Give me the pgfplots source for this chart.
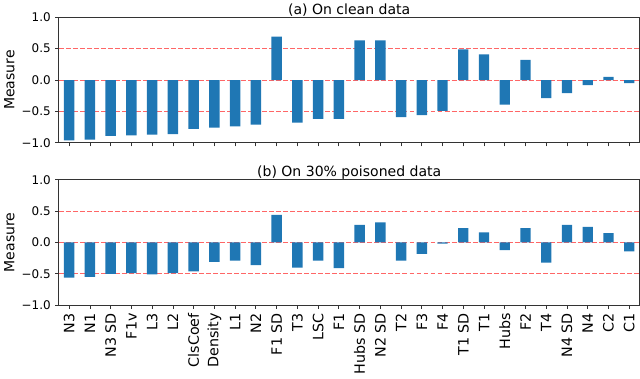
\documentclass[border=0pt]{standalone}
\usepackage{pgfplots}
\pgfplotsset{compat=1.18}
\usepackage{fontspec}
\setmainfont{DejaVu Sans}
\definecolor{barblue}{HTML}{1F77B4}
\definecolor{refred}{HTML}{FF6666}

\pgfplotsset{
  panel/.style={
    scale only axis,
    width=472pt, height=102pt,
    xmin=-0.5, xmax=27.5,
    ymin=-1, ymax=1,
    ytick={-1,-0.5,0,0.5,1},
    yticklabels={−1.0,−0.5,0.0,0.5,1.0},
    xtick={0,...,27},
    tick align=outside,
    tick pos=left,
    major tick length=3pt,
    axis line style={black!80, line width=0.6pt},
    tick style={black!80, line width=0.6pt},
    ylabel={Measure},
    ylabel style={font=\fontsize{11.4}{13}\selectfont, yshift=-1pt},
    y tick label style={font=\fontsize{9.7}{11}\selectfont},
    x tick label style={font=\fontsize{11.6}{13}\selectfont},
    title style={font=\fontsize{11.4}{13}\selectfont, yshift=-9pt},
    /pgf/number format/assume math mode=true,
  },
  refline/.style={refred, line width=0.8pt, dash pattern=on 4pt off 1.7pt, forget plot},
  bars/.style={ybar, bar width=0.5, bar shift=0pt, fill=barblue, draw=none},
}

\begin{document}
\begin{tikzpicture}
\begin{axis}[panel, at={(0,0)}, anchor=north west,
  title={(a) On clean data}, xticklabels={}]
  \addplot[refline] coordinates {(-0.5,0.5) (27.5,0.5)};
  \addplot[refline] coordinates {(-0.5,0) (27.5,0)};
  \addplot[refline] coordinates {(-0.5,-0.5) (27.5,-0.5)};
  \addplot[bars] coordinates {
    (0,-0.96) (1,-0.95) (2,-0.89) (3,-0.88) (4,-0.87) (5,-0.86)
    (6,-0.78) (7,-0.76) (8,-0.74) (9,-0.71) (10,0.69) (11,-0.68)
    (12,-0.62) (13,-0.62) (14,0.63) (15,0.63) (16,-0.59) (17,-0.56)
    (18,-0.49) (19,0.49) (20,0.41) (21,-0.39) (22,0.32) (23,-0.29)
    (24,-0.21) (25,-0.08) (26,0.05) (27,-0.05)
  };
\end{axis}
\begin{axis}[panel, at={(0,-132pt)}, anchor=north west,
  title={(b) On 30\% poisoned data},
  xticklabels={N3, N1, N3 SD, F1v, L3, L2, ClsCoef, Density, L1, N2, F1 SD, T3, LSC, F1,
    Hubs SD, N2 SD, T2, F3, F4, T1 SD, T1, Hubs, F2, T4, N4 SD, N4, C2, C1},
  x tick label style={rotate=90, anchor=east}]
  \addplot[refline] coordinates {(-0.5,0.5) (27.5,0.5)};
  \addplot[refline] coordinates {(-0.5,0) (27.5,0)};
  \addplot[refline] coordinates {(-0.5,-0.5) (27.5,-0.5)};
  \addplot[bars] coordinates {
    (0,-0.56) (1,-0.55) (2,-0.50) (3,-0.49) (4,-0.51) (5,-0.49)
    (6,-0.46) (7,-0.31) (8,-0.29) (9,-0.36) (10,0.44) (11,-0.40)
    (12,-0.29) (13,-0.41) (14,0.28) (15,0.32) (16,-0.29) (17,-0.18)
    (18,-0.02) (19,0.23) (20,0.16) (21,-0.12) (22,0.23) (23,-0.32)
    (24,0.28) (25,0.25) (26,0.15) (27,-0.14)
  };
\end{axis}
\end{tikzpicture}
\end{document}
